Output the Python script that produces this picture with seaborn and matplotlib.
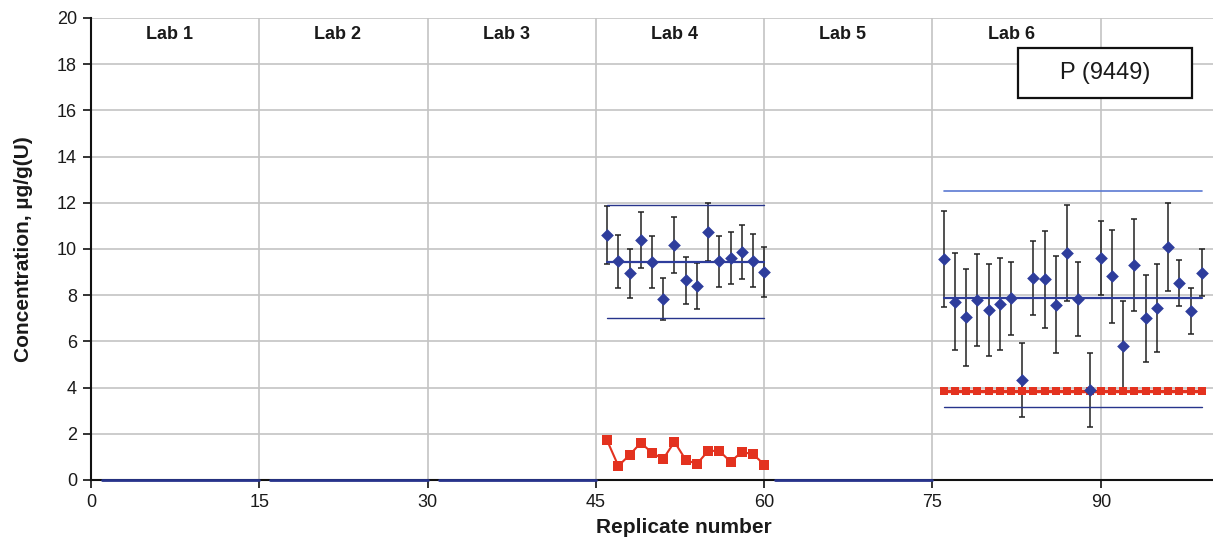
import numpy as np
import pandas as pd
import seaborn as sns
import matplotlib.pyplot as plt
from matplotlib.patches import Rectangle

# ---- data ----
lab_names = ["Lab 1", "Lab 2", "Lab 3", "Lab 4", "Lab 5", "Lab 6"]
lab_first = [1, 16, 31, 46, 61, 76]
lab_last = [15, 30, 45, 60, 75, 99]
empty_lab_mean = 0.0  # labs without reported results

lab4_rep = list(range(46, 61))
lab4_conc = [10.60, 9.46, 8.94, 10.39, 9.43, 7.83, 10.17, 8.64, 8.41, 10.73,
             9.46, 9.61, 9.89, 9.50, 9.01]
lab4_err = [1.25, 1.13, 1.05, 1.23, 1.13, 0.92, 1.20, 1.00, 1.00, 1.26,
            1.12, 1.13, 1.17, 1.14, 1.07]
lab4_ref = [1.71, 0.61, 1.08, 1.61, 1.18, 0.91, 1.65, 0.88, 0.69, 1.26,
            1.26, 0.79, 1.21, 1.12, 0.67]
lab4_mean, lab4_upper, lab4_lower = 9.44, 11.90, 7.00

lab6_rep = list(range(76, 100))
lab6_conc = [9.56, 7.72, 7.04, 7.80, 7.37, 7.62, 7.86, 4.33, 8.75, 8.68,
             7.59, 9.84, 7.85, 3.90, 9.63, 8.81, 5.81, 9.30, 7.00, 7.46,
             10.09, 8.54, 7.30, 8.98]
lab6_err = [2.09, 2.09, 2.09, 2.00, 2.00, 1.99, 1.59, 1.60, 1.60, 2.10,
            2.09, 2.08, 1.60, 1.60, 1.60, 2.00, 1.95, 1.98, 1.89, 1.90,
            1.89, 1.00, 0.99, 1.00]
lab6_ref = [3.85, 3.85, 3.85, 3.85, 3.85, 3.85, 3.85, 3.85, 3.85, 3.85,
            3.85, 3.85, 3.85, 3.85, 3.85, 3.85, 3.85, 3.85, 3.85, 3.85,
            3.85, 3.85, 3.85, 3.85]
lab6_mean, lab6_upper, lab6_lower = 7.88, 12.52, 3.18

x_ticks = [0, 15, 30, 45, 60, 75, 90]
y_ticks = [0, 2, 4, 6, 8, 10, 12, 14, 16, 18, 20]
panel_label = "P (9449)"

# ---- styling ----
sns.set_theme(style="white")
plt.rcParams["font.family"] = ["Liberation Sans", "DejaVu Sans"]

BLUE = "#2e3d9c"
NAVY = "#27348c"
LIGHT_BLUE = "#5b79d2"
RED = "#e3321f"
GRID = "#c4c4c4"

fig = plt.figure(figsize=(12.13, 5.42), dpi=100)
ax = fig.add_axes([0.075, 0.1144, 0.925, 0.8524])

# grid
ax.set_xlim(0, 100)
ax.set_ylim(0, 20)
ax.set_xticks(x_ticks)
ax.set_yticks(y_ticks)
ax.grid(True, color=GRID, linewidth=1.2, zorder=0)
ax.set_axisbelow(True)

# zero lines for labs without results
for name, a, b in zip(lab_names, lab_first, lab_last):
    if name in ("Lab 4", "Lab 6"):
        continue
    ax.plot([a, b], [empty_lab_mean, empty_lab_mean], color=NAVY, lw=2.0,
            zorder=3, clip_on=False)

# lab 4
df4 = pd.DataFrame({"rep": lab4_rep, "conc": lab4_conc, "err": lab4_err,
                    "ref": lab4_ref})
ax.errorbar(df4["rep"], df4["conc"], yerr=df4["err"], fmt="none",
            ecolor="#222222", elinewidth=1.1, capsize=2.5, capthick=1.1,
            zorder=3)
for yv, col, lw in [(lab4_upper, NAVY, 1.0), (lab4_lower, NAVY, 1.0),
                    (lab4_mean, BLUE, 1.6)]:
    ax.plot([lab4_rep[0], lab4_rep[-1]], [yv, yv], color=col, lw=lw, zorder=4)
sns.lineplot(data=df4, x="rep", y="ref", ax=ax, color=RED, lw=1.5,
             marker="s", markersize=6.5, markeredgewidth=0, zorder=5)
sns.scatterplot(data=df4, x="rep", y="conc", ax=ax, color=BLUE, marker="D",
                s=42, linewidth=0, zorder=6)

# lab 6
df6 = pd.DataFrame({"rep": lab6_rep, "conc": lab6_conc, "err": lab6_err,
                    "ref": lab6_ref})
ax.errorbar(df6["rep"], df6["conc"], yerr=df6["err"], fmt="none",
            ecolor="#222222", elinewidth=1.1, capsize=2.5, capthick=1.1,
            zorder=3)
for yv, col, lw in [(lab6_upper, LIGHT_BLUE, 1.2), (lab6_lower, NAVY, 1.0),
                    (lab6_mean, BLUE, 1.6)]:
    ax.plot([lab6_rep[0], lab6_rep[-1]], [yv, yv], color=col, lw=lw, zorder=4)
sns.lineplot(data=df6, x="rep", y="ref", ax=ax, color=RED, lw=2.5,
             marker="s", markersize=6, markeredgewidth=0, zorder=5)
sns.scatterplot(data=df6, x="rep", y="conc", ax=ax, color=BLUE, marker="D",
                s=42, linewidth=0, zorder=6)

# lab names
for name, a in zip(lab_names, lab_first):
    ax.text(a + 6.0, 19.3, name, ha="center", va="center", fontsize=13,
            fontweight="bold", color="#1a1a1a")

# panel label box
ax.add_patch(Rectangle((82.6, 16.52), 15.5, 2.2, facecolor="white",
                       edgecolor="#111111", lw=1.6, zorder=7))
ax.text(90.35, 17.62, panel_label, ha="center", va="center", fontsize=17,
        color="#1a1a1a", zorder=8)

# axes
for s in ("top", "right"):
    ax.spines[s].set_visible(False)
for s in ("left", "bottom"):
    ax.spines[s].set_color("#111111")
    ax.spines[s].set_linewidth(1.5)
ax.tick_params(axis="both", direction="out", length=6, width=1.2,
               color="#111111", labelsize=13, labelcolor="#1a1a1a",
               bottom=True, left=True, pad=4)
ax.set_xlabel("Replicate number", fontsize=15, fontweight="bold",
              color="#1a1a1a")
ax.set_ylabel("Concentration, \u00b5g/g(U)", fontsize=15, fontweight="bold",
              color="#1a1a1a")
ax.xaxis.set_label_coords(0.528, -0.083)
ax.yaxis.set_label_coords(-0.052, 0.5)

fig.savefig("out.png", dpi=100)
